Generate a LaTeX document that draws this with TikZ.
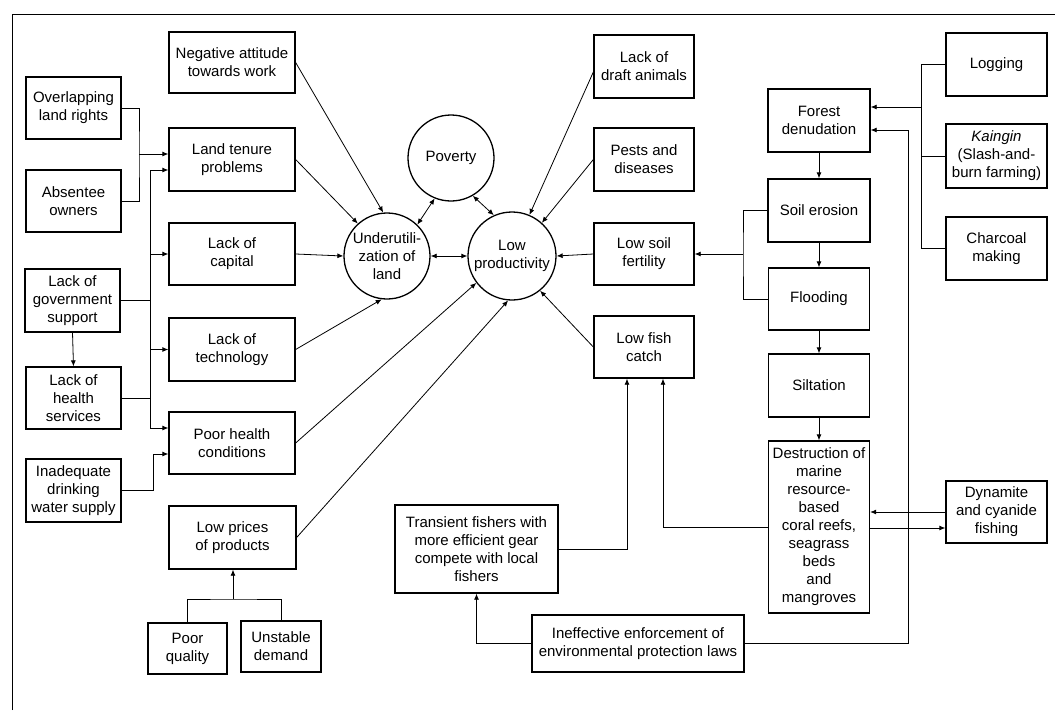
\documentclass[tikz,border=0pt]{standalone}
\usepackage{fontspec}
\setmainfont{Liberation Sans}
\usetikzlibrary{arrows.meta}
\begin{document}
\begin{tikzpicture}[x=1pt,y=-1pt,
  every node/.style={font=\fontsize{15}{18}\selectfont},
  box/.style={draw, line width=1.3pt, rectangle, align=center, inner sep=1pt},
  sz/.style 2 args={minimum width=#1pt, minimum height=#2pt},
  blob/.style={draw, line width=1.3pt, circle, align=center, inner sep=0pt, minimum size=#1pt},
  link/.style={line width=0.8pt},
  arr/.style={link, -{Latex[length=6pt,width=5pt]}},
  dbl/.style={link, {Latex[length=6pt,width=5pt]}-{Latex[length=6pt,width=5pt]}},
]
\useasboundingbox (0,0) rectangle (1055,710);

% frame
\draw[line width=0.8pt] (12,710) -- (12,14) -- (1055,14);

% left column of causes
\node[box, sz={95}{62}]  (overlap)  at (73.5,108)   {Overlapping\\land rights};
\node[box, sz={95}{62}]  (absentee) at (73.5,201)   {Absentee\\owners};
\node[box, sz={95}{63}]  (govt)     at (72.5,300.5) {Lack of\\government\\support};
\node[box, sz={95}{62}]  (hs)       at (73.5,398)   {Lack of\\health\\services};
\node[box, sz={95}{63}]  (water)    at (73.5,490.5) {Inadequate\\drinking\\water supply};

% second column
\node[box, sz={126}{61}] (neg)        at (232,62.5)  {Negative attitude\\towards work};
\node[box, sz={126}{63}] (tenure)     at (232,159.5) {Land tenure\\problems};
\node[box, sz={126}{62}] (capital)    at (232,254)   {Lack of\\capital};
\node[box, sz={126}{63}] (technology) at (232,349.5) {Lack of\\technology};
\node[box, sz={126}{62}] (poorhealth) at (232,443)   {Poor health\\conditions};
\node[box, sz={127}{63}] (prices)     at (232.5,537.5) {Low prices\\of products};
\node[box, sz={79}{51}]  (quality)    at (187.5,648.5) {Poor\\quality};
\node[box, sz={80}{51}]  (demand)     at (281,646.5)   {Unstable\\demand};

% central problems
\node[blob=86] (poverty)  at (451,158) {Poverty};
\node[blob=86] (underutil) at (387,256) {Underutili-\\zation of\\land};
\node[blob=88] (lowprod)  at (512,256) {Low\\productivity};

% right of centre
\node[box, sz={100}{63}] (draft)    at (644,66.5)  {Lack of\\draft animals};
\node[box, sz={100}{63}] (pests)    at (644,159.5) {Pests and\\diseases};
\node[box, sz={100}{62}] (soilfert) at (644,254)   {Low soil\\fertility};
\node[box, sz={100}{62}] (fish)     at (644,347)   {Low fish\\catch};
\node[box, sz={163}{88}] (transient) at (476.5,549) {Transient fishers with\\more efficient gear\\compete with local\\fishers};
\node[box, sz={212}{57}] (enforce)  at (638,643.5) {Ineffective enforcement of\\environmental protection laws};

% environmental chain
\node[box, sz={102}{63}]  (forest)      at (819,120.5) {Forest\\denudation};
\node[box, sz={102}{63}]  (erosion)     at (819,210.5) {Soil erosion};
\node[box, sz={101}{62}]  (flooding)    at (819,299)   {Flooding};
\node[box, sz={101}{63}]  (siltation)   at (819,385.5) {Siltation};
\node[box, sz={101}{172}] (destruction) at (819,527)   {Destruction of\\marine\\resource-\\based\\coral reefs,\\seagrass\\beds\\and\\mangroves};

% far right
\node[box, sz={101}{63}] (logging)  at (996.5,64.5)  {Logging};
\node[box, sz={101}{64}] (kaingin)  at (996.5,156)   {\textit{Kaingin}\\(Slash-and-\\burn farming)};
\node[box, sz={101}{63}] (charcoal) at (996.5,248.5) {Charcoal\\making};
\node[box, sz={101}{62}] (dynamite) at (996.5,512)   {Dynamite\\and cyanide\\fishing};

% land tenure sources
\coordinate (landjoin) at (139,154);
\draw[link] (overlap.east) -| (landjoin) |- (absentee.east);
\draw[arr] (landjoin) -- (landjoin -| tenure.west);

% government support bus
\coordinate (govtop) at (150,170);
\coordinate (govbot) at (150,428);
\draw[link] (govtop) -- (govbot);
\draw[link] (govt.east) -- (govt.east -| govtop);
\draw[link] (hs.east) -- (hs.east -| govtop);
\draw[arr] (govt.south) -- (hs.north);
\draw[arr] (govtop) -- (govtop -| tenure.west);
\draw[arr] (govtop |- capital.west) -- (capital.west);
\draw[arr] (govtop |- technology.west) -- (technology.west);
\draw[arr] (govbot) -- (govbot -| poorhealth.west);

% drinking water
\coordinate (waterjoin) at (153,454);
\draw[arr] (water.east) -| (waterjoin) -- (waterjoin -| poorhealth.west);

% market
\coordinate (pricejoin) at (233,599);
\draw[link] (quality.north) |- (pricejoin) -| (demand.north);
\draw[arr] (pricejoin) -- (pricejoin |- prices.south);

% into underutilization of land
\draw[arr] (neg.east) -- (underutil.95);
\draw[arr] (tenure.east) -- (underutil.132);
\draw[arr] (capital.east) -- (underutil.west);
\draw[arr] (technology.east) -- (underutil.263);

% into low productivity
\draw[arr] (poorhealth.east) -- (lowprod.217);
\draw[arr] (prices.east) -- (lowprod.265);
\draw[arr] ([yshift=-5.5pt]draft.west) -- (lowprod.67);
\draw[arr] (pests.west) -- (lowprod.48);
\draw[arr] (soilfert.west) -- (lowprod.east);
\draw[arr] (fish.west) -- (lowprod.309);

% mutual links
\draw[dbl] (poverty.248) -- (underutil.46);
\draw[dbl] (poverty.300) -- (lowprod.114);
\draw[dbl] (underutil.east) -- (lowprod.west);

% environmental chain
\draw[arr] (forest.south) -- (erosion.north);
\draw[arr] (erosion.south) -- (flooding.north);
\draw[arr] (flooding.south) -- (siltation.north);
\draw[arr] (siltation.south) -- (destruction.north);

\coordinate (fertjoin) at (743,254);
\draw[link] (erosion.west) -| (fertjoin) |- (flooding.west);
\draw[arr] (fertjoin) -- (soilfert.east);

\coordinate (forestjoin) at (921,107);
\draw[link] (logging.west) -| (forestjoin) |- (charcoal.west);
\draw[link] (kaingin.west) -- (kaingin.west -| forestjoin);
\draw[arr] (forestjoin) -- (forestjoin -| forest.east);

\coordinate (lawjoin) at (908,130);
\draw[arr] (enforce.east) -| (lawjoin) -- (lawjoin -| forest.east);

% fisheries
\draw[arr] (destruction.west) -| ([xshift=19pt]fish.south);
\draw[arr] (transient.east) -| ([xshift=-17pt]fish.south);
\draw[arr] (enforce.west) -| (transient.south);
\draw[arr] (dynamite.west) -- (dynamite.west -| destruction.east);
\coordinate (reefout) at (870,528);
\draw[arr] (destruction.east |- reefout) -- (reefout -| dynamite.west);
\end{tikzpicture}
\end{document}
